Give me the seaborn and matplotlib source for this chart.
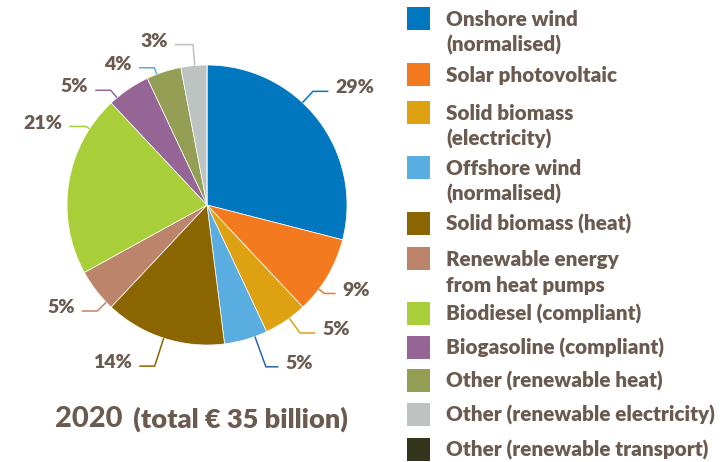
import numpy as np
import matplotlib.pyplot as plt
import seaborn as sns
from matplotlib.patches import Rectangle

# data
categories = [
    "Onshore wind\n(normalised)",
    "Solar photovoltaic",
    "Solid biomass\n(electricity)",
    "Offshore wind\n(normalised)",
    "Solid biomass (heat)",
    "Renewable energy\nfrom heat pumps",
    "Biodiesel (compliant)",
    "Biogasoline (compliant)",
    "Other (renewable heat)",
    "Other (renewable electricity)",
    "Other (renewable transport)",
]
shares = [29, 9, 5, 5, 14, 5, 21, 5, 4, 3, 0]
colors = ["#0077BF", "#F47A20", "#DEA112", "#5AADE0", "#8B6500", "#BC846A",
          "#A8CE3A", "#946595", "#949F55", "#BCC3C1", "#33361D"]
line_colors = ["#0077BF", "#F47A20", "#DEA112", "#2C64A8", "#8B6500", "#BC846A",
               "#A8CE3A", "#946595", "#5AADE0", "#BCC3C1", "#33361D"]
title_year = "2020"
title_rest = " (total € 35 billion)"

# leader line layout: anchor angle (deg clockwise from top), elbow radius
anchor_deg = [43, 127, 144, 160, 198, 226, 303, 320, 339, 355, 0]
elbow_r = [1.11, 1.05, 1.13, 1.23, 1.21, 1.09, 1.03, 1.07, 1.05, 1.15, 1.0]
hline = [0.11, 0.08, 0.11, 0.09, 0.11, 0.11, 0.12, 0.11, 0.11, 0.13, 0.1]

sns.set_style("white")
plt.rcParams['font.family'] = ['Lato', 'DejaVu Sans']
TEXT = "#6A5A50"
WEIGHT = "heavy"

fig = plt.figure(figsize=(7.26, 4.62), dpi=100)
R = 140.0  # pie radius in px
ax = fig.add_axes([0, 0, 400 / 726, 1])
ax.pie(shares, colors=colors, startangle=90, counterclock=False, radius=1,
       wedgeprops=dict(edgecolor="white", linewidth=0.5))
ax.set_xlim(-207 / R, 193 / R)
ax.set_ylim(-257 / R, 205 / R)
ax.axis("off")

for v, deg, er, hl, lc in zip(shares, anchor_deg, elbow_r, hline, line_colors):
    if v == 0:
        continue
    th = np.deg2rad(deg)
    x0, y0 = np.sin(th), np.cos(th)
    x1, y1 = er * np.sin(th), er * np.cos(th)
    side = 1 if x1 > 0 else -1
    x2 = x1 + side * hl
    ax.plot([x0, x1, x2], [y0, y1, y1], color=lc, lw=1.1, solid_capstyle="butt")
    ax.text(x2 + side * 0.05, y1 - 0.015, f"{v}%", ha="left" if side > 0 else "right",
            va="baseline", fontsize=14, fontweight=WEIGHT, color=TEXT)

t1 = ax.text(55 / R - 207 / R, -(427 - 205) / R, title_year, ha="left", va="baseline",
             fontsize=21, fontweight="black", color=TEXT)
ax.annotate(title_rest, xy=(1, 0), xycoords=t1, xytext=(3, 0), textcoords="offset points",
            va="bottom", ha="left", fontsize=19.5, fontweight=WEIGHT, color=TEXT)

# legend drawn in pixel coordinates
lax = fig.add_axes([0, 0, 1, 1])
lax.set_xlim(0, 726)
lax.set_ylim(462, 0)
lax.axis("off")
tops = [7, 63, 101, 156, 212, 247, 302, 336, 369, 403, 438]
for top, lab, c in zip(tops, categories, colors):
    lax.add_patch(Rectangle((407, top), 23, 23, facecolor=c, edgecolor="none"))
    for k, line in enumerate(lab.split("\n")):
        lax.text(446, top + 19 + 26 * k, line, ha="left", va="baseline",
                 fontsize=14.9, fontweight=WEIGHT, color=TEXT)

fig.savefig("out.png", dpi=100)
